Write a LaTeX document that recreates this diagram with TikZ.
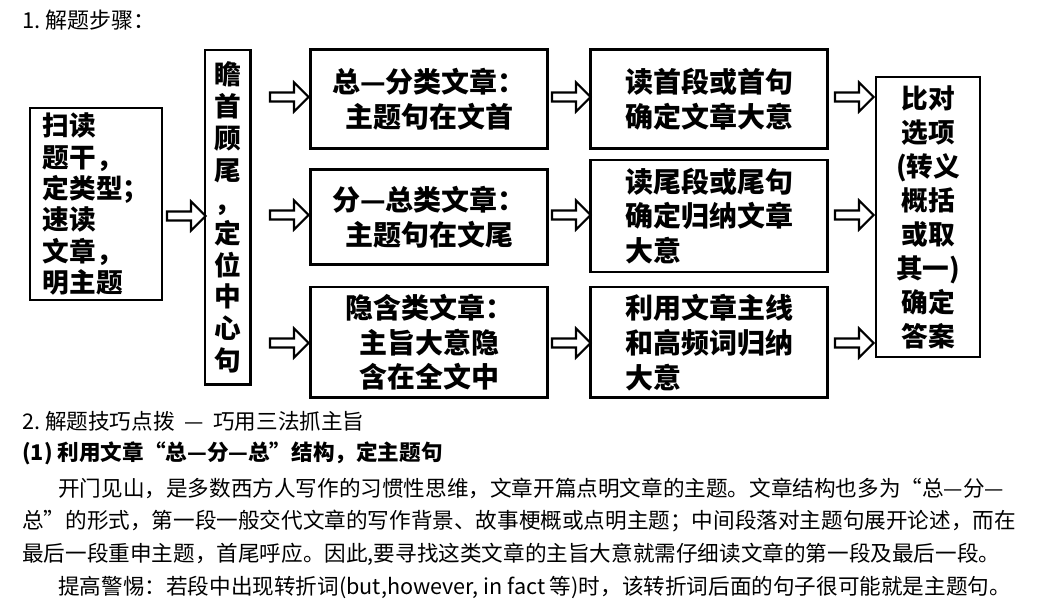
\documentclass[tikz,border=0pt]{standalone}
\usepackage{fontspec}
\setmainfont{Noto Sans CJK SC}
\usetikzlibrary{shapes.arrows}
\begin{document}
\begin{tikzpicture}[x=0.75pt,y=-0.75pt,
 bx/.style={draw,line width=2pt,inner sep=0pt,font=\fontsize{21}{26}\selectfont\bfseries,align=center},
 ar/.style={single arrow,draw,line width=1.6pt,minimum height=29pt,minimum width=22pt,single arrow head extend=4pt,inner sep=1pt},
 tx/.style={anchor=west,inner sep=0pt,font=\fontsize{16.2}{18}\selectfont}]
\useasboundingbox (0,0) rectangle (1059,605);
\node[tx,font=\fontsize{16.5}{18}\selectfont] (t1) at (22,20) {1.\ 解题步骤：};
\node[bx,minimum width=99pt,minimum height=144pt,align=left,font=\fontsize{20}{23.5}\selectfont\bfseries] (b1) at (96,204) {扫读\\题干，\\定类型；\\速读\\文章，\\明主题};
\node[bx,minimum width=34pt,minimum height=251pt,font=\fontsize{20}{23.8}\selectfont\bfseries] (b2) at (227.5,217.5) {瞻\\首\\顾\\尾\\，\\定\\位\\中\\心\\句};
\node[bx,minimum width=178pt,minimum height=74pt] (b3) at (429,99) {总—分类文章：\\主题句在文首};
\node[bx,minimum width=178pt,minimum height=71pt] (b4) at (429,217) {分—总类文章：\\主题句在文尾};
\node[bx,minimum width=178pt,minimum height=83pt] (b5) at (429,342.5) {隐含类文章：\\主旨大意隐\\含在全文中};
\node[bx,minimum width=178pt,minimum height=74pt] (b6) at (709,99) {读首段或首句\\确定文章大意};
\node[bx,minimum width=178pt,minimum height=84pt,align=left] (b7) at (709,216) {读尾段或尾句\\确定归纳文章\\大意};
\node[bx,minimum width=178pt,minimum height=83pt,align=left] (b8) at (709,342.5) {利用文章主线\\和高频词归纳\\大意};
\node[bx,minimum width=78pt,minimum height=210pt,font=\fontsize{20}{25.5}\selectfont\bfseries] (b9) at (928,217) {比对\\选项\\(转义\\概括\\或取\\其一)\\确定\\答案};
\node[ar] (a1) at (184,216) {};
\node[ar] (a2) at (287,97) {};
\node[ar] (a3) at (287,215) {};
\node[ar] (a4) at (287,343) {};
\node[ar] (a5) at (569,97) {};
\node[ar] (a6) at (569,215) {};
\node[ar] (a7) at (569,343) {};
\node[ar] (a8) at (852,97) {};
\node[ar] (a9) at (852,215) {};
\node[ar] (a10) at (852,343) {};
\node[tx] (t2) at (22,421) {2.\ 解题技巧点拨 \ — \ 巧用三法抓主旨};
\node[tx,font=\fontsize{16.2}{18}\selectfont\bfseries] (t3) at (22,453) {(1)\ 利用文章“总—分—总”结构，定主题句};
\node[tx] (p1) at (58,488) {开门见山，是多数西方人写作的习惯性思维，文章开篇点明文章的主题。文章结构也多为“总—分—};
\node[tx] (p2) at (22,521) {总”的形式，第一段一般交代文章的写作背景、故事梗概或点明主题；中间段落对主题句展开论述，而在};
\node[tx] (p3) at (22,554) {最后一段重申主题，首尾呼应。因此,要寻找这类文章的主旨大意就需仔细读文章的第一段及最后一段。};
\node[tx] (p4) at (58,587) {提高警惕：若段中出现转折词(but,however, in fact 等)时，该转折词后面的句子很可能就是主题句。};
\end{tikzpicture}
\end{document}
